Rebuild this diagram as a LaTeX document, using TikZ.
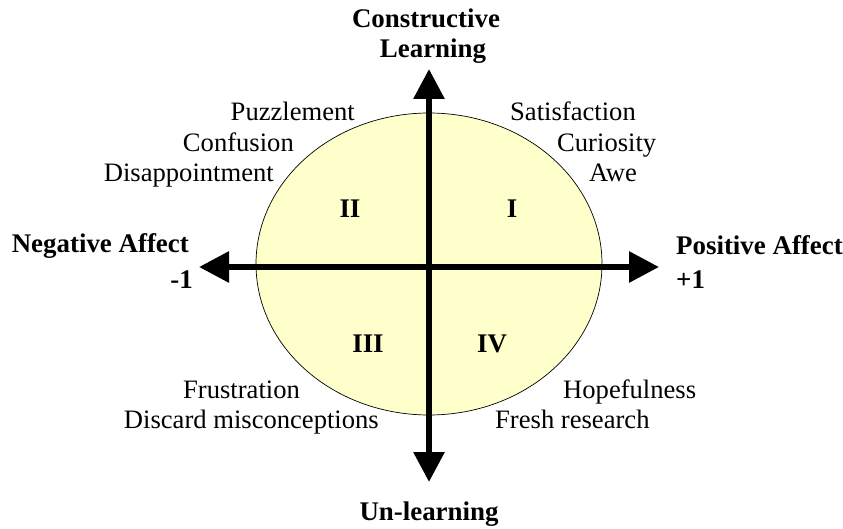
\documentclass[tikz,border=0pt]{standalone}
\usepackage{fontspec}
\setmainfont{Liberation Serif}
\usetikzlibrary{arrows.meta}
\definecolor{quadfill}{HTML}{FFFFCC}
\begin{document}
\begin{tikzpicture}[x=1pt,y=-1pt,
  lbl/.style={inner sep=0pt,font=\fontsize{26.6}{30}\selectfont},
  blbl/.style={inner sep=0pt,font=\fontsize{26.9}{30}\selectfont\bfseries},
  axis/.style={line width=6pt,
    {Triangle[length=30pt,width=30pt]}-{Triangle[length=30pt,width=30pt]}}]
\useasboundingbox (0,0) rectangle (843,529);

% shaded region
\filldraw[fill=quadfill,draw=black,line width=0.7pt] (429,264) ellipse [x radius=173, y radius=151];

% axis end points
\coordinate (W) at (199,267);
\coordinate (E) at (659,267);
\coordinate (N) at (429,69);
\coordinate (S) at (429,482);

\draw[axis] (W) -- (E);
\draw[axis] (N) -- (S);

% axis titles
\node[blbl,anchor=base] (cl1) at (426,28) {Constructive};
\node[blbl,anchor=base] (cl2) at (433,58) {Learning};
\node[blbl,anchor=base] (ul) at (429,520) {Un-learning};
\node[blbl,anchor=base east] (na) at (189,253) {Negative Affect};
\node[blbl,anchor=base east] (m1) at (193,288) {-1};
\node[blbl,anchor=base west] (pa) at (676,255) {Positive Affect};
\node[blbl,anchor=base west] (p1) at (676,288) {+1};

% quadrant numerals
\node[blbl,anchor=base] (q1) at (512,218) {I};
\node[blbl,anchor=base] (q2) at (350,218) {II};
\node[blbl,anchor=base] (q3) at (368,352) {III};
\node[blbl,anchor=base] (q4) at (492,352) {IV};

% emotions, upper half
\node[lbl,anchor=base east] (puz) at (355,121) {Puzzlement};
\node[lbl,anchor=base east] (con) at (294,152) {Confusion};
\node[lbl,anchor=base east] (dis) at (274,182) {Disappointment};
\node[lbl,anchor=base west] (sat) at (510,121) {Satisfaction};
\node[lbl,anchor=base west] (cur) at (557,152) {Curiosity};
\node[lbl,anchor=base west] (awe) at (589,182) {Awe};

% emotions, lower half
\node[lbl,anchor=base west] (fru) at (183,398) {Frustration};
\node[lbl,anchor=base east] (dmc) at (379,428) {Discard misconceptions};
\node[lbl,anchor=base west] (hop) at (563,398) {Hopefulness};
\node[lbl,anchor=base west] (fre) at (495,428) {Fresh research};
\end{tikzpicture}
\end{document}
